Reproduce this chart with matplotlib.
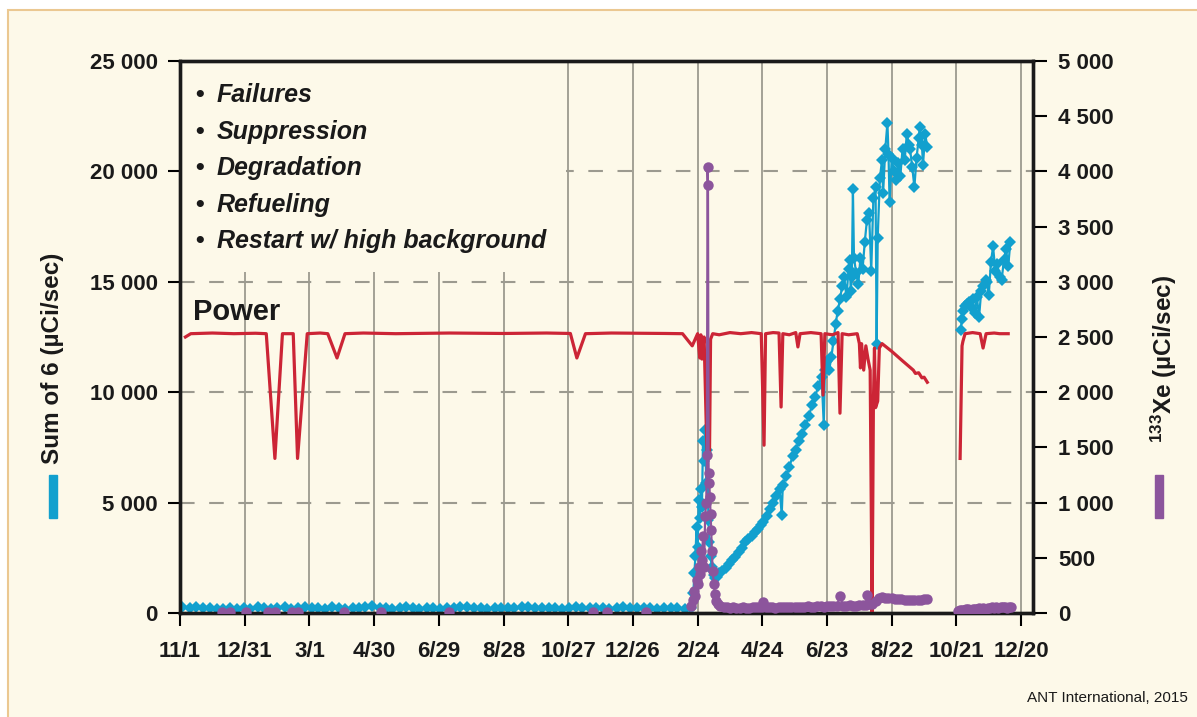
import numpy as np
import matplotlib.pyplot as plt
from matplotlib.patches import Rectangle

plt.rcParams['font.family'] = ['Liberation Sans', 'DejaVu Sans']
plt.rcParams['mathtext.fontset'] = 'custom'
plt.rcParams['mathtext.rm'] = 'Liberation Sans'
plt.rcParams['mathtext.bf'] = 'Liberation Sans:bold'

# ---- data (days counted from 11/1) ----
tick_days = [0, 60, 120, 180, 240, 300, 360, 420, 480, 540, 600, 660, 720, 780]
tick_labels = ['11/1', '12/31', '3/1', '4/30', '6/29', '8/28', '10/27',
               '12/26', '2/24', '4/24', '6/23', '8/22', '10/21', '12/20']

notes = ['Failures', 'Suppression', 'Degradation', 'Refueling',
         'Restart w/ high background']

# sum of 6 (left axis)
blue_pre_days = [
    2, 9, 15, 21, 28, 34, 40, 46, 53, 59,
    65, 72, 78, 84, 90, 97, 103, 109, 116, 122,
    128, 134, 141, 147, 153, 160, 166, 172, 178, 185,
    191, 197, 204, 210, 216, 222, 229, 235, 241, 248,
    254, 260, 266, 273, 279, 285, 292, 298, 304, 310,
    317, 323, 329, 336, 342, 348, 354, 361, 367, 373,
    380, 386, 392, 398, 405, 411, 417, 424, 430, 436,
    442, 449, 455, 461, 468, 474]
blue_pre_vals = [
    260, 240, 250, 210, 230, 200, 190, 220, 180, 240,
    200, 260, 210, 190, 230, 250, 200, 220, 280, 240,
    210, 200, 250, 230, 190, 220, 210, 260, 300, 240,
    220, 200, 230, 250, 210, 190, 240, 220, 200, 230,
    210, 250, 270, 240, 220, 200, 210, 230, 240, 220,
    260, 250, 230, 210, 240, 220, 200, 230, 250, 240,
    210, 230, 220, 200, 240, 250, 230, 210, 220, 240,
    200, 230, 220, 210, 190, 230]

blue_fail_days = [
    476, 477, 478, 479, 480, 481, 482, 483, 484, 485,
    486, 487, 488, 489, 490, 491, 492, 493, 494, 495,
    496, 498, 500, 503, 506, 509, 512, 515, 518, 521,
    524, 527, 530, 533, 536, 539, 541, 544, 547, 550,
    553, 556, 558, 559, 562, 565, 568, 571, 574, 577,
    580, 583, 586, 589, 592, 595, 597, 598, 600, 602,
    604, 606, 608, 610, 612, 614, 616, 618, 620, 621,
    622, 623, 624, 625, 627, 629, 631, 633, 635, 637,
    639, 641, 643, 645, 646, 647, 649, 651, 652, 654,
    656, 657, 658, 660, 662, 664, 666, 668, 670, 672,
    674, 676, 677, 679, 681, 683, 685, 686, 688, 689,
    691, 693]
blue_fail_vals = [
    900, 1800, 2600, 3900, 3000, 5100, 4300, 5600, 4800, 7800,
    6900, 8300, 5900, 7400, 4200, 3200, 2600, 2100, 1900, 1700,
    1600, 1650, 1800, 1900, 2050, 2200, 2400, 2550, 2750, 2950,
    3200, 3350, 3500, 3650, 3800, 4000, 4100, 4400, 4700, 5000,
    5300, 5600, 4450, 5800, 6200, 6600, 7100, 7400, 7800, 8100,
    8500, 8900, 9400, 9800, 10300, 10700, 8500, 11000, 11400, 11000,
    11600, 12300, 13100, 13700, 14200, 14800, 15200, 14300, 15600, 16000,
    14600, 15200, 19200, 16100, 15400, 14900, 16100, 15600, 16800, 17800,
    18100, 15500, 18800, 19300, 12200, 17000, 19700, 20500, 19000, 21000,
    22200, 20800, 18600, 20600, 20000, 19600, 20400, 19800, 21000, 20500,
    21700, 21200, 21000, 20200, 19300, 20600, 21500, 22000, 21200, 20300,
    21700, 21100]

blue_b_days = [
    724, 725, 726, 728, 730, 732, 734, 735, 737, 739,
    741, 743, 745, 747, 748, 750, 752, 754, 756, 758,
    760, 762, 764, 766, 768, 770]
blue_b_vals = [
    12800, 13300, 13700, 13900, 14000, 14100, 13800, 14200, 13600, 14300,
    13400, 14600, 14800, 15100, 15000, 14400, 15900, 16600, 15500, 15800,
    15200, 15100, 16000, 16500, 15700, 16800]

# power (drawn on left scale)
power_a_days = [
    5, 10, 30, 50, 70, 80, 88, 95, 105, 109,
    118, 130, 137, 145.6, 153, 170, 200, 250, 300, 340,
    362, 368, 376, 400, 450, 466, 475, 480, 482, 483,
    484, 486, 488, 489, 490, 491, 492, 494, 500, 510,
    520, 530, 539, 541.6, 543, 550, 555.5, 557.4, 559, 565,
    571, 573, 575, 585, 594.5, 596.3, 598, 605, 610.2, 612,
    614, 620, 628, 630, 631, 632, 634, 636, 638, 640,
    641.8, 643, 644, 645, 647, 648.5, 651, 660, 670, 680,
    682, 685, 688, 690, 693]
power_a_vals = [
    12500, 12650, 12680, 12650, 12670, 12650, 7000, 12650, 12650, 7000,
    12650, 12680, 12650, 11550, 12650, 12680, 12650, 12680, 12660, 12680,
    12660, 11550, 12650, 12680, 12660, 12650, 12100, 12650, 11550, 12600,
    11500, 12500, 8500, 7000, 9000, 7100, 12400, 12650, 12600, 12700,
    12650, 12700, 12650, 7600, 12650, 12700, 12680, 9330, 12650, 12600,
    12700, 12050, 12650, 12700, 12650, 9870, 12650, 12600, 12700, 9050,
    12650, 12600, 12650, 12200, 11100, 12200, 11000, 12100, 11500, 11000,
    0, 9500, 12000, 9300, 9600, 12000, 12200, 11850, 11420, 11000,
    10850, 10880, 10650, 10680, 10450]

power_b_days = [723.4, 725.2, 726, 728, 735, 742, 744.7, 747.5, 755, 760, 768]
power_b_vals = [7000, 12100, 12300, 12650, 12700, 12650, 12000, 12650, 12680, 12650, 12650]

# 133Xe (right axis)
xe_pre_days = [39, 46, 61, 82, 88, 104, 109, 152, 186, 249, 383, 396, 432]
xe_pre_vals = [5, 5, 8, 6, 5, 8, 5, 10, 8, 6, 8, 5, 6]

xe_fail_days = [
    474, 476, 477, 478, 479, 480, 481, 482, 483, 484,
    485, 486, 487, 488, 488.6, 489.2, 489.6, 490.2, 490.8, 491.4,
    492, 492.6, 493.2, 494, 495, 496, 497, 499, 501, 504,
    507, 510, 513, 516, 519, 522, 525, 528, 531, 534,
    537, 540, 541, 543, 546, 549, 552, 555, 558, 561,
    564, 567, 570, 573, 576, 579, 582, 585, 588, 591,
    594, 597, 600, 603, 606, 609, 612, 615, 618, 621,
    624, 627, 630, 633, 636, 637, 639, 642, 645, 648,
    651, 654, 657, 660, 663, 666, 669, 672, 675, 678,
    681, 684, 687, 690, 693]
xe_fail_vals = [
    60, 120, 200, 150, 300, 260, 420, 350, 560, 480,
    700, 420, 880, 1000, 1430, 4040, 3880, 1270, 1180, 1050,
    900, 750, 560, 380, 260, 170, 110, 80, 60, 55,
    50, 48, 50, 45, 48, 50, 46, 48, 50, 52,
    55, 58, 100, 55, 50, 52, 48, 50, 55, 52,
    50, 55, 58, 55, 52, 55, 60, 58, 55, 60,
    62, 58, 60, 65, 62, 60, 154, 62, 65, 68,
    62, 65, 70, 72, 75, 163, 80, 85, 110, 135,
    145, 140, 138, 135, 130, 128, 125, 120, 122, 118,
    115, 120, 118, 125, 130]

xe_b_days = [721, 723, 725, 727, 729, 731, 733, 735, 737, 739, 741, 743, 745,
             747, 749, 751, 753, 755, 757, 759, 761, 763, 765, 767, 769, 771]
xe_b_vals = [20, 25, 30, 28, 32, 35, 30, 38, 35, 40, 42, 38, 45,
             40, 48, 45, 50, 46, 52, 48, 55, 50, 52, 48, 55, 50]

# ---- style ----
BG = '#FDF9E9'
BORDER = '#EBC891'
GRID = '#9C9A8F'
BLUE = '#12A0CE'
RED = '#CC2536'
PURPLE = '#8C559C'
INK = '#1a1a1a'

W, H = 1197, 717


def fx(x):
    return x / W


def fy(y):
    return 1 - y / H


fig = plt.figure(figsize=(W / 100, H / 100), dpi=100, facecolor='white')
fig.add_artist(Rectangle((fx(8), -0.2), 1.5, fy(10) + 0.2, transform=fig.transFigure,
                         facecolor=BG, edgecolor=BORDER, lw=1.5, zorder=-1))

ax = fig.add_axes([fx(180), fy(613), fx(1033) - fx(180), fy(61) - fy(613)])
ax.set_facecolor(BG)
ax.set_xlim(0, 791)
ax.set_ylim(0, 25000)

ax.set_axisbelow(True)
ax.xaxis.grid(True, color=GRID, lw=1.3, ls='-')
ax.yaxis.grid(True, color=GRID, lw=1.5, ls=(0, (7, 7)))
# blank area behind the notes
ax.add_patch(Rectangle((0, 15440), 358, 25000 - 15440, facecolor=BG,
                       edgecolor='none', zorder=1))

ax.set_xticks(tick_days)
ax.set_xticklabels(tick_labels)
yt = [0, 5000, 10000, 15000, 20000, 25000]
ax.set_yticks(yt)
ax.set_yticklabels([f'{v:,}'.replace(',', ' ') for v in yt])
ax.tick_params(axis='y', direction='out', length=9, width=1.5, pad=7, labelsize=16)
ax.tick_params(axis='x', direction='out', length=9, width=1.5, pad=11, labelsize=16)
for lab in ax.get_xticklabels() + ax.get_yticklabels():
    lab.set_fontweight('bold')
    lab.set_color(INK)

mk = dict(marker='D', ms=6.5, mew=0)
ax.plot(blue_pre_days + blue_fail_days, blue_pre_vals + blue_fail_vals, color=BLUE,
        lw=1.6, zorder=2, **mk)
ax.plot(blue_b_days, blue_b_vals, color=BLUE, lw=1.6, zorder=2, **mk)
ax.plot(power_a_days, power_a_vals, color=RED, lw=2.3, zorder=3)
ax.plot(power_b_days, power_b_vals, color=RED, lw=2.3, zorder=3)

ax2 = ax.twinx()
ax2.set_ylim(0, 5000)
rt = list(range(0, 5001, 500))
ax2.set_yticks(rt)
ax2.set_yticklabels([f'{v:,}'.replace(',', ' ') for v in rt])
ax2.tick_params(axis='y', direction='out', length=10, width=1.5, pad=8, labelsize=16)
for lab in ax2.get_yticklabels():
    lab.set_fontweight('bold')
    lab.set_color(INK)

ax2.plot(xe_pre_days, xe_pre_vals, ls='none', marker='o', ms=7.5, mew=0,
         color=PURPLE, zorder=3)
ax2.plot(xe_fail_days, xe_fail_vals, color=PURPLE, lw=1.6, marker='o', ms=7.5, mew=0, zorder=3)
ax2.plot(xe_b_days, xe_b_vals, color=PURPLE, lw=1.6, marker='o', ms=7.5, mew=0, zorder=3)

for a in (ax, ax2):
    for s in a.spines.values():
        s.set_linewidth(2.4)
        s.set_color(INK)

# notes
for i, t in enumerate(notes):
    yb = 102 + i * 36.6
    fig.text(fx(200), fy(yb), '\u2022', ha='center', va='baseline', fontsize=18,
             fontweight='bold', color=INK)
    fig.text(fx(217), fy(yb), t, ha='left', va='baseline', fontsize=18,
             fontweight='bold', fontstyle='italic', color=INK)
fig.text(fx(193), fy(320), 'Power', ha='left', va='baseline', fontsize=21,
         fontweight='bold', color=INK)

# axis labels with colour keys
fig.text(fx(53), fy(358), 'Sum of 6 (\u00b5Ci/sec)', rotation=90, ha='center',
         va='center', fontsize=17.5, fontweight='bold', color=INK)
fig.text(fx(1164), fy(359), '$\\mathregular{^{133}}$Xe (\u00b5Ci/sec)', rotation=90,
         ha='center', va='center', fontsize=17.5, fontweight='bold', color=INK)
fig.add_artist(Rectangle((fx(49), fy(518)), fx(8), fy(475) - fy(518),
                         transform=fig.transFigure, color=BLUE))
fig.add_artist(Rectangle((fx(1155), fy(518)), fx(8), fy(475) - fy(518),
                         transform=fig.transFigure, color=PURPLE))

fig.text(fx(1188), fy(702), 'ANT International, 2015', ha='right', va='baseline',
         fontsize=11, color=INK)

fig.savefig('out.png', dpi=100, facecolor='white')
